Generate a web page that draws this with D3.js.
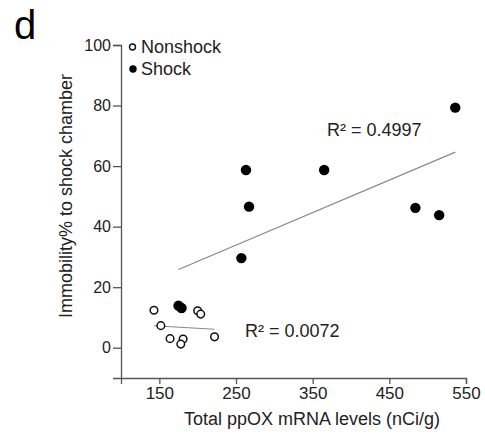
<!DOCTYPE html>
<html>
<head>
<meta charset="utf-8">
<script src="https://cdn.jsdelivr.net/npm/d3@7"></script>
<style>
  body { margin: 0; background: #fff; }
  text { font-family: Arial, "Liberation Sans", sans-serif; fill: #222; }
  .axis path, .axis line { stroke: #555; stroke-width: 1.3; }
  .axis text { fill: #222; }
</style>
</head>
<body>
<div id="chart"></div>
<script>
// values
let nonshockX = [143, 152, 164, 181, 178, 200, 204, 222]
let nonshockY = [12.4, 7.3, 3.0, 2.9, 1.2, 12.2, 11.1, 3.6]
let shockX = [175, 179, 257, 263, 267, 365, 484, 515, 536]
let shockY = [13.9, 13.1, 29.6, 58.7, 46.6, 58.7, 46.2, 43.8, 79.3]
let xTicks = [150, 250, 350, 450, 550]
let yTicks = [0, 20, 40, 60, 80, 100]
let r2Labels = ['R² = 0.0072', 'R² = 0.4997']

let width = 485
let height = 435

let svg = d3.select('#chart')
  .append('svg')
  .attr('width', width)
  .attr('height', height)

let xScale = d3.scaleLinear().domain([100, 550]).range([121, 466])
let yScale = d3.scaleLinear().domain([-10, 100]).range([378, 45])

// axes
let xAxis = svg.append('g')
  .attr('class', 'axis')
  .attr('transform', 'translate(0, ' + yScale(-10) + ')')
  .call(d3.axisBottom(xScale).tickValues(xTicks).tickSizeOuter(0).tickSize(6).tickPadding(3))
xAxis.selectAll('text').style('font-size', '17px')

let yAxis = svg.append('g')
  .attr('class', 'axis')
  .attr('transform', 'translate(' + xScale(100) + ', 0)')
  .call(d3.axisLeft(yScale).tickValues(yTicks).tickSizeOuter(0).tickSize(8).tickPadding(2))
yAxis.selectAll('text').style('font-size', '16px')

// least squares fit
function fit(xs, ys) {
  let mx = d3.mean(xs), my = d3.mean(ys)
  let sxy = d3.sum(xs, (x, i) => (x - mx) * (ys[i] - my))
  let sxx = d3.sum(xs, x => (x - mx) * (x - mx))
  let b = sxy / sxx
  let a = my - b * mx
  let ext = d3.extent(xs)
  return [[ext[0], a + b * ext[0]], [ext[1], a + b * ext[1]]]
}

let line = d3.line().x(d => xScale(d[0])).y(d => yScale(d[1]))

svg.append('path')
  .attr('d', line(fit(nonshockX, nonshockY)))
  .attr('stroke', '#888')
  .attr('stroke-width', 1.2)
  .attr('fill', 'none')

svg.append('path')
  .attr('d', line(fit(shockX, shockY)))
  .attr('stroke', '#888')
  .attr('stroke-width', 1.2)
  .attr('fill', 'none')

// points
svg.selectAll('circle.non')
  .data(nonshockX)
  .enter()
  .append('circle')
  .attr('class', 'non')
  .attr('cx', d => xScale(d))
  .attr('cy', (d, i) => yScale(nonshockY[i]))
  .attr('r', 3.8)
  .attr('fill', 'white')
  .attr('stroke', '#111')
  .attr('stroke-width', 1.5)

svg.selectAll('circle.shock')
  .data(shockX)
  .enter()
  .append('circle')
  .attr('class', 'shock')
  .attr('cx', d => xScale(d))
  .attr('cy', (d, i) => yScale(shockY[i]))
  .attr('r', 5.2)
  .attr('fill', '#000')

// R² labels
svg.append('text')
  .attr('x', 245).attr('y', 337)
  .style('font-size', '18px')
  .text(r2Labels[0])
svg.append('text')
  .attr('x', 327).attr('y', 136)
  .style('font-size', '18px')
  .text(r2Labels[1])

// legend
svg.append('circle')
  .attr('cx', 132.5).attr('cy', 47)
  .attr('r', 3)
  .attr('fill', 'white')
  .attr('stroke', '#111')
  .attr('stroke-width', 1.4)
svg.append('text')
  .attr('x', 141).attr('y', 53)
  .style('font-size', '18px')
  .text('Nonshock')
svg.append('circle')
  .attr('cx', 133).attr('cy', 69)
  .attr('r', 3.7)
  .attr('fill', '#000')
svg.append('text')
  .attr('x', 141).attr('y', 75)
  .style('font-size', '18px')
  .text('Shock')

// axis titles
svg.append('text')
  .attr('x', 312).attr('y', 425)
  .attr('text-anchor', 'middle')
  .style('font-size', '18px')
  .text('Total ppOX mRNA levels (nCi/g)')

svg.append('text')
  .attr('transform', 'translate(72, 196) rotate(-90)')
  .attr('text-anchor', 'middle')
  .style('font-size', '18px')
  .text('Immobility% to shock chamber')

// panel letter
svg.append('text')
  .attr('x', 14).attr('y', 39)
  .style('font-size', '40px')
  .style('fill', '#000')
  .text('d')
</script>
</body>
</html>
